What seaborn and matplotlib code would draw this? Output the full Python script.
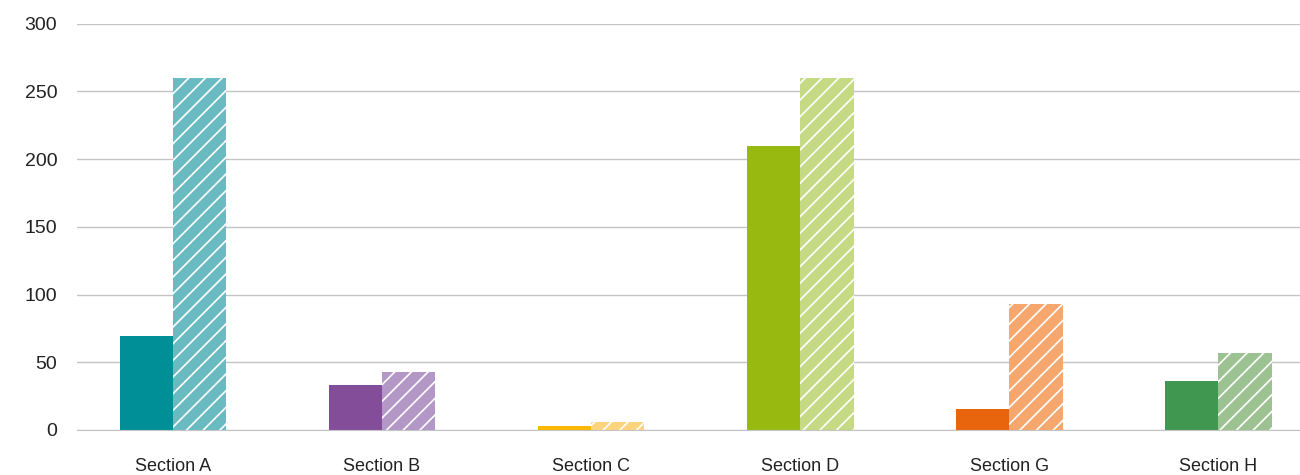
import numpy as np
import pandas as pd
import matplotlib
matplotlib.use("Agg")
import matplotlib.pyplot as plt
import seaborn as sns

sections = ["Section A", "Section B", "Section C", "Section D", "Section G", "Section H"]
actual = [69, 33, 3, 210, 15.5, 36]
target = [260, 43, 6, 260, 93, 57]

solid_colors = ["#008E97", "#844D99", "#FBB800", "#98BA10", "#E8650D", "#409850"]
light_colors = ["#6ABBC1", "#B397C6", "#FDD47E", "#C6D984", "#F5A76E", "#9DC292"]

df = pd.DataFrame({
    "section": sections * 2,
    "value": actual + target,
    "kind": ["actual"] * len(sections) + ["target"] * len(sections),
})

sns.set_style("white")
plt.rcParams["font.family"] = ["Liberation Sans", "DejaVu Sans"]
plt.rcParams["hatch.linewidth"] = 1.2

fig = plt.figure(figsize=(13, 4.75), dpi=100)
ax = fig.add_axes([0.059, 0.095, 0.941, 0.855])

sns.barplot(data=df, x="section", y="value", hue="kind", order=sections,
            width=0.51, gap=0, legend=False, ax=ax)

# seaborn draws patches hue by hue: first all actual, then all target
n = len(sections)
for i, p in enumerate(ax.patches[:2 * n]):
    k = i % n
    if i < n:
        p.set_facecolor(solid_colors[k])
        p.set_edgecolor(solid_colors[k])
        p.set_linewidth(0)
    else:
        p.set_facecolor(light_colors[k])
        p.set_edgecolor("white")
        p.set_hatch("//")
        p.set_linewidth(0)

ax.set_ylim(0, 300)
ax.set_xlim(-0.46, 5.39)
ax.set_yticks([0, 50, 100, 150, 200, 250, 300])
ax.yaxis.grid(True, color="#c4c4c4", linewidth=1)
ax.set_axisbelow(True)
for s in ["top", "right", "left"]:
    ax.spines[s].set_visible(False)
ax.spines["bottom"].set_color("#c4c4c4")
ax.tick_params(axis="both", length=0, colors="#222222")
ax.tick_params(axis="y", pad=14, labelsize=14)
ax.tick_params(axis="x", pad=20, labelsize=13)
ax.set_xlabel("")
ax.set_ylabel("")

fig.savefig("out.png", dpi=100)
